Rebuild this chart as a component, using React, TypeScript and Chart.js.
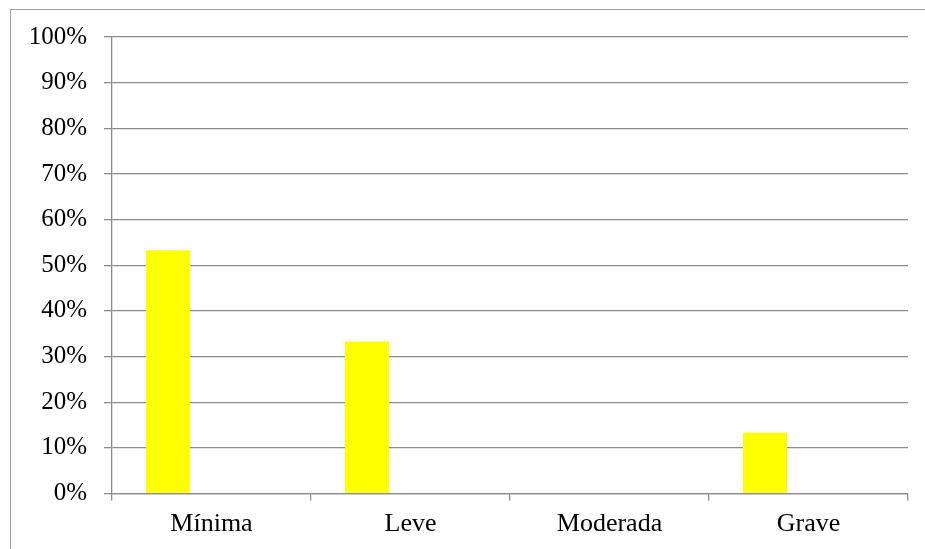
import React, { useEffect, useRef } from "react";
import { Chart, registerables } from "chart.js";

Chart.register(...registerables);

const categories = ["Mínima", "Leve", "Moderada", "Grave"];
const seriesA = [0.533, 0.333, 0, 0.133];
const seriesB: (number | null)[] = [null, null, null, null];
const yTicks = [0, 0.1, 0.2, 0.3, 0.4, 0.5, 0.6, 0.7, 0.8, 0.9, 1];

const GRID = "#8c8c8c";

export default function App() {
  const ref = useRef<HTMLCanvasElement | null>(null);

  useEffect(() => {
    document.body.style.margin = "0";
    const ctx = ref.current!;
    const chart = new Chart(ctx, {
      type: "bar",
      data: {
        labels: categories,
        datasets: [
          {
            data: seriesA,
            backgroundColor: "#ffff00",
            borderWidth: 0,
            categoryPercentage: 0.874,
            barPercentage: 0.506,
          },
          {
            data: seriesB,
            backgroundColor: "#ff0000",
            borderWidth: 0,
            categoryPercentage: 0.874,
            barPercentage: 0.506,
          },
        ],
      },
      options: {
        animation: false,
        responsive: false,
        devicePixelRatio: 1,
        layout: { padding: { left: 0, right: 17, top: 37, bottom: 0 } },
        plugins: {
          legend: { display: false },
          title: { display: false },
          tooltip: { enabled: false },
        },
        scales: {
          x: {
            offset: true,
            grid: {
              offset: true,
              drawOnChartArea: false,
              drawTicks: true,
              tickLength: 7,
              color: GRID,
              lineWidth: 1.3,
            },
            border: { color: GRID, width: 1.3 },
            ticks: {
              color: "#000",
              font: { family: "Liberation Serif", size: 26 },
              padding: 8,
            },
            afterFit: (s: any) => {
              s.height = 55.5;
            },
          },
          y: {
            min: 0,
            max: 1,
            afterBuildTicks: (s: any) => {
              s.ticks = yTicks.map((v) => ({ value: v }));
            },
            grid: {
              color: GRID,
              lineWidth: 1.3,
              drawTicks: true,
              tickLength: 8,
            },
            border: { color: GRID, width: 1.3 },
            ticks: {
              color: "#000",
              font: { family: "Liberation Serif", size: 25 },
              padding: 17,
              callback: (v: any) => Math.round(Number(v) * 100) + "%",
            },
            afterFit: (s: any) => {
              s.width = 112;
            },
          },
        },
      },
    });
    return () => chart.destroy();
  }, []);

  return (
    <div style={{ position: "relative", width: 925, height: 549, overflow: "hidden", background: "#fff" }}>
      <div
        style={{
          position: "absolute",
          left: 10,
          top: 9,
          width: 1000,
          height: 1000,
          borderLeft: "1.5px solid #a0a0a0",
          borderTop: "1.5px solid #a0a0a0",
        }}
      />
      <canvas ref={ref} width={925} height={549} style={{ position: "absolute", left: 0, top: 0 }} />
    </div>
  );
}
